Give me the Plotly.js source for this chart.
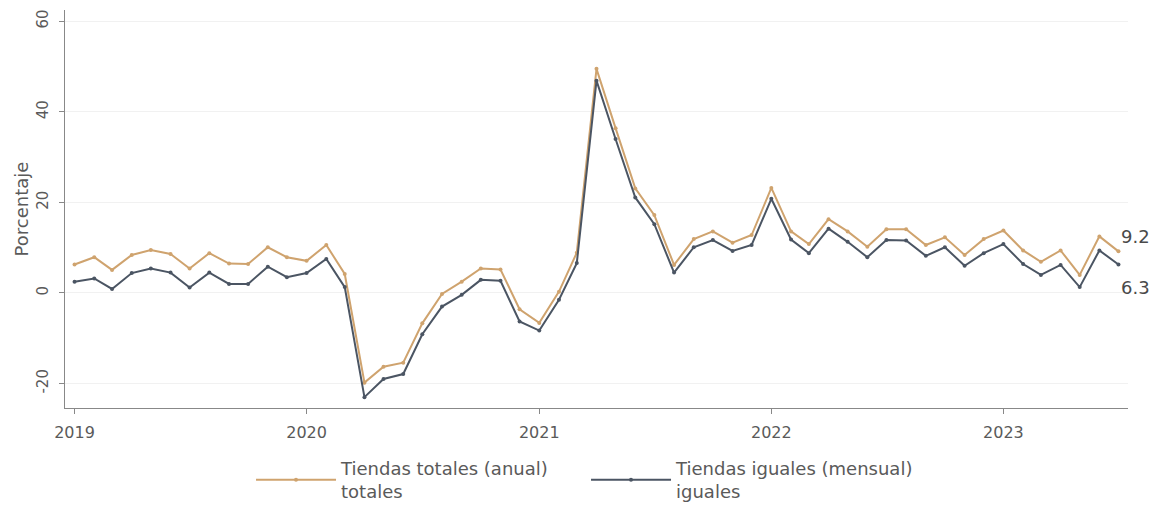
<!DOCTYPE html>
<html>
<head>
<meta charset="utf-8">
<script src="https://cdn.plot.ly/plotly-3.0.1.min.js"></script>
<style>html,body{margin:0;padding:0;background:#fff;}#chart{width:1158px;height:510px;}</style>
</head>
<body>
<div id="chart"></div>
<script>
const months = [
 "2019-01-01","2019-02-01","2019-03-01","2019-04-01","2019-05-01","2019-06-01","2019-07-01","2019-08-01","2019-09-01","2019-10-01","2019-11-01","2019-12-01",
 "2020-01-01","2020-02-01","2020-03-01","2020-04-01","2020-05-01","2020-06-01","2020-07-01","2020-08-01","2020-09-01","2020-10-01","2020-11-01","2020-12-01",
 "2021-01-01","2021-02-01","2021-03-01","2021-04-01","2021-05-01","2021-06-01","2021-07-01","2021-08-01","2021-09-01","2021-10-01","2021-11-01","2021-12-01",
 "2022-01-01","2022-02-01","2022-03-01","2022-04-01","2022-05-01","2022-06-01","2022-07-01","2022-08-01","2022-09-01","2022-10-01","2022-11-01","2022-12-01",
 "2023-01-01","2023-02-01","2023-03-01","2023-04-01","2023-05-01","2023-06-01","2023-07-01"
];
const tiendasTotales = [
 6.3, 7.9, 5.1, 8.4, 9.5, 8.6, 5.4, 8.8, 6.5, 6.4, 10.1, 7.9,
 7.1, 10.6, 4.2, -19.8, -16.3, -15.4, -6.7, -0.2, 2.5, 5.4, 5.2, -3.6,
 -6.6, 0.3, 8.9, 49.5, 36.4, 23.1, 17.2, 6.2, 11.9, 13.6, 11.1, 12.8,
 23.2, 13.6, 10.8, 16.3, 13.6, 10.2, 14.1, 14.1, 10.6, 12.3, 8.4, 11.9,
 13.8, 9.4, 6.9, 9.4, 4.0, 12.5, 9.2
];
const tiendasIguales = [
 2.5, 3.2, 0.9, 4.4, 5.4, 4.5, 1.2, 4.5, 2.0, 2.0, 5.8, 3.5,
 4.4, 7.5, 1.3, -23.0, -19.0, -17.9, -9.1, -3.0, -0.4, 2.9, 2.7, -6.3,
 -8.3, -1.5, 6.6, 46.9, 34.0, 21.1, 15.2, 4.5, 10.1, 11.7, 9.3, 10.6,
 20.8, 11.8, 8.8, 14.2, 11.3, 7.9, 11.7, 11.6, 8.2, 10.1, 6.0, 8.8,
 10.8, 6.4, 4.0, 6.2, 1.3, 9.4, 6.3
];
const yTicks = [-20, 0, 20, 40, 60];
const seriesNames = ["Tiendas totales (anual)<br>totales", "Tiendas iguales (mensual)<br>iguales"];
const colTot = "#CFA36E";
const colIg = "#4B5563";
const font = "'DejaVu Sans', sans-serif";

const traces = [
 {x: months, y: tiendasTotales, name: seriesNames[0], type: "scatter", mode: "lines+markers",
  line: {color: colTot, width: 2}, marker: {color: colTot, size: 4}},
 {x: months, y: tiendasIguales, name: seriesNames[1], type: "scatter", mode: "lines+markers",
  line: {color: colIg, width: 2}, marker: {color: colIg, size: 4}}
];
const lastI = months.length - 1;
const layout = {
 width: 1158, height: 510,
 margin: {l: 65, r: 30, t: 10, b: 102, autoexpand: false},
 paper_bgcolor: "#fff", plot_bgcolor: "#fff",
 font: {family: font, color: "#5a5a5a", size: 15},
 showlegend: true,
 legend: {orientation: "h", x: 0.175, xanchor: "left", y: -0.105, yanchor: "top",
  font: {size: 18, color: "#5a5a5a"}, traceorder: "normal", tracegroupgap: 0,
  entrywidth: 240, itemwidth: 80},
 xaxis: {type: "date", range: ["2018-12-17", "2023-07-16"], tick0: "2019-01-01", dtick: "M12",
  tickformat: "%Y", showgrid: false, zeroline: false, showline: true, linecolor: "#888", linewidth: 1,
  ticks: "outside", ticklen: 5, tickcolor: "#888", ticklabelstandoff: 5,
  tickfont: {size: 16, color: "#5a5a5a"}},
 yaxis: {range: [-25.4, 62.5], tickmode: "array", tickvals: yTicks, ticktext: yTicks.map(String), tickangle: -90,
  showgrid: true, gridcolor: "#f1f1f1", gridwidth: 1, zeroline: false,
  showline: true, linecolor: "#888", linewidth: 1, ticks: "outside", ticklen: 5, tickcolor: "#888",
  ticklabelstandoff: 5, tickfont: {size: 15, color: "#5a5a5a"},
  title: {text: "Porcentaje", font: {size: 18, color: "#5a5a5a"}, standoff: 0}},
 annotations: [
  {x: months[lastI], y: tiendasTotales[lastI], xref: "x", yref: "y", text: String(tiendasTotales[lastI]),
   showarrow: false, xanchor: "left", xshift: 1, yshift: 15, font: {size: 18, color: "#4a4a4a"}},
  {x: months[lastI], y: tiendasIguales[lastI], xref: "x", yref: "y", text: String(tiendasIguales[lastI]),
   showarrow: false, xanchor: "left", xshift: 1, yshift: -23, font: {size: 18, color: "#4a4a4a"}}
 ]
};
Plotly.newPlot("chart", traces, layout, {displayModeBar: false, staticPlot: true});
</script>
</body>
</html>
